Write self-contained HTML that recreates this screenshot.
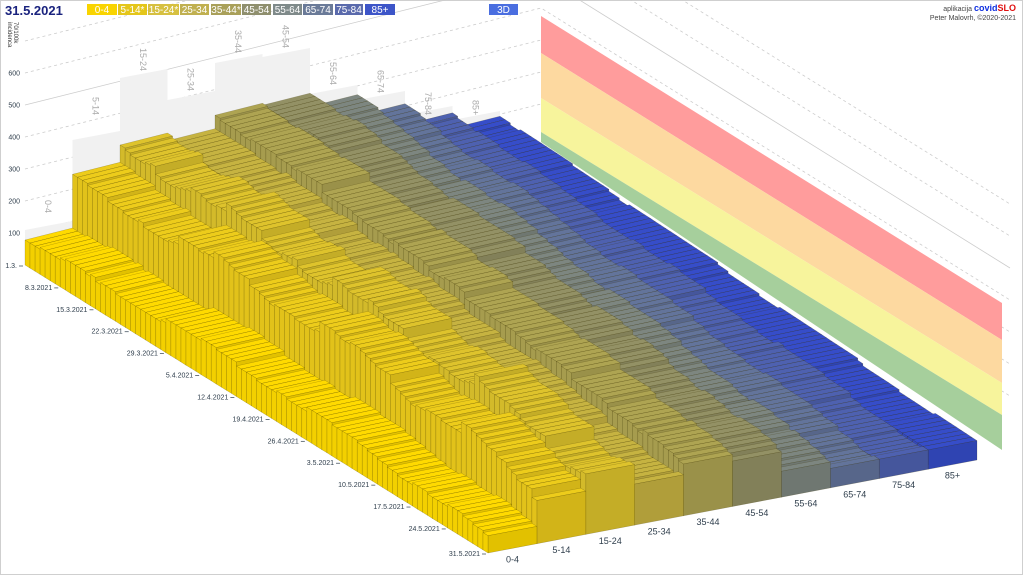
<!DOCTYPE html>
<html><head><meta charset="utf-8">
<style>
html,body{margin:0;padding:0;background:#fff;}
#w{position:relative;width:1024px;height:576px;overflow:hidden;font-family:"Liberation Sans",sans-serif;}
svg{position:absolute;left:0;top:0;}
</style></head>
<body><div id="w">
<svg id="s" width="1024" height="576" viewBox="0 0 1024 576" xmlns="http://www.w3.org/2000/svg">
<rect x="0.5" y="0.5" width="1022" height="574" fill="#fff" stroke="#cfcfcf"/>
<g id="grid" stroke="#cccccc" stroke-width="0.8" fill="none"></g>
<g id="back"></g>
<g id="wall"></g>
<g id="bars" stroke="rgba(60,50,0,0.32)" stroke-width="0.5"></g>
<g id="lbl" font-size="7" fill="#2f3e4c"></g>
<text x="5" y="15" font-size="13" font-weight="bold" fill="#1a237e">31.5.2021</text>
<g id="leg" font-size="10" fill="#fff" text-anchor="middle"></g>
<rect x="489" y="4" width="29" height="11" fill="#4a6ee0"/>
<text x="503.5" y="13" font-size="10" fill="#fff" text-anchor="middle">3D</text>
<text x="1016" y="11" font-size="7" fill="#444" text-anchor="end">aplikacija <tspan fill="#1030e0" font-weight="bold" font-size="9">covid</tspan><tspan fill="#e01010" font-weight="bold" font-size="9">SLO</tspan></text>
<text x="1016" y="20" font-size="7" fill="#444" text-anchor="end">Peter Malovrh, ©2020-2021</text>
<text transform="translate(14,22) rotate(90)" font-size="6" fill="#333">70/100k</text>
<text transform="translate(8,22) rotate(90)" font-size="6" fill="#333">incidenca</text>
</svg>
</div>
<script>
(function(){
var NS="http://www.w3.org/2000/svg";
function el(p,t,a,txt){var e=document.createElementNS(NS,t);for(var k in a)e.setAttribute(k,a[k]);if(txt!=null)e.textContent=txt;document.getElementById(p).appendChild(e);return e;}
var gv=[100,200,300,400,500,600,700];
gv.forEach(function(v){var y=265-v*0.32;
 el('grid','polyline',{points:"25,"+y+" 541,"+(y-129)+" 1010,"+(y-129+292),"stroke-dasharray":v==500?"":"3,3"});
 if(v<=600)el('lbl','text',{x:20,y:y+2.5,"text-anchor":"end"},String(v));
});
var bt=[230,140,78,100,63,57,94,100,115,120];
var names=["0-4","5-14","15-24","25-34","35-44","45-54","55-64","65-74","75-84","85+"];
var ly=[200,97,48,68,30,25,62,70,92,100];
for(var i=0;i<10;i++){var x0=25+47.5*i,x1=x0+47.5,t=bt[i];
 el('back','polygon',{points:x0+","+t+" "+x1+","+(t-9)+" "+x1+","+(265-12*(i+1))+" "+x0+","+(265-12*i),fill:"#f1f1f1"});
 el('back','text',{transform:"translate("+(x0+20)+","+ly[i]+") rotate(90)","font-size":"9",fill:"#aaa"},names[i]);
}
el('wall','polygon',{points:"541,16 1002,303 1002,340 541,53",fill:"#ff9c9c"});
el('wall','polygon',{points:"541,53 1002,340 1002,383 541,98",fill:"#fdd9a0"});
el('wall','polygon',{points:"541,98 1002,383 1002,415 541,132",fill:"#f7f49c"});
el('wall','polygon',{points:"541,132 1002,415 1002,450 541,142",fill:"#a6cf9c"});
function P(d,s,v){var x=(1-d)*(25+47.5*s)+d*(488+48.9*s);var y=(1-d)*(265-12*s)+d*(553-9.3*s);y-=v*0.32*(1+0.125*d);return [x,y];}
function pts(a){return a.map(function(p){return p[0].toFixed(1)+","+p[1].toFixed(1)}).join(" ");}
var st=[75,219,294,284,325,319,260,200,140,90];
var md=[95,235,265,210,245,232,170,125,95,70];
var en=[45,140,175,100,145,130,75,55,50,48];
var col=[[243,208,0],[226,194,26],[211,186,42],[189,170,62],[166,156,78],[140,138,96],[119,128,122],[94,110,148],[74,92,168],[51,73,191]];
function c(a,f){return "rgb("+a.map(function(x){return Math.max(0,Math.min(255,Math.round(x*f)))}).join(",")+")";}
var N=92;
for(var i=9;i>=0;i--){
 var cs=c(col[i],1),ct=c(col[i],1.05),ce=c(col[i],0.93);
 for(var k=0;k<N;k++){
  var d0=k/N,d1=(k+1)/N,tt=k/(N-1);
  // quadratic through st, md, en
  var a0=st[i],a2=en[i],a1=md[i];
  var base=a0*(1-tt)*(1-2*tt)+4*a1*tt*(1-tt)+a2*tt*(2*tt-1);
  var m=(a0+a1+a2)/3;
  var amp=i<3?0.16:0.09;
  var wk=Math.floor(k/7);
  var v=base+m*amp*(0.55*Math.sin(wk*1.7+i*1.3)+0.3*Math.sin(k*0.23+i*2.1)+0.15*Math.sin(k*0.9+i));
  v=Math.max(20,Math.round(v/6)*6);
  var A=P(d0,i,0),B=P(d1,i,0),C=P(d1,i+1,0),At=P(d0,i,v),Bt=P(d1,i,v),Ct=P(d1,i+1,v),Et=P(d0,i+1,v);
  el('bars','polygon',{points:pts([At,Bt,Ct,Et]),fill:ct});
  el('bars','polygon',{points:pts([B,C,Ct,Bt]),fill:ce});
  el('bars','polygon',{points:pts([A,B,Bt,At]),fill:cs});
 }
}
var dl=["1.3.","8.3.2021","15.3.2021","22.3.2021","29.3.2021","5.4.2021","12.4.2021","19.4.2021","26.4.2021","3.5.2021","10.5.2021","17.5.2021","24.5.2021","31.5.2021"];
dl.forEach(function(s,j){var d=Math.min(1,(j*7)/N);if(j==13)d=1;var p=P(d,0,0);
 el('lbl','line',{x1:p[0]-6,y1:p[1]+1,x2:p[0]-2,y2:p[1]+1,stroke:"#2f3e4c","stroke-width":"0.7"});
 el('lbl','text',{x:p[0]-8,y:p[1]+3,"text-anchor":"end"},s);
});
for(var i=0;i<10;i++){var p=P(1,i+0.5,0);el('lbl','text',{x:p[0],y:p[1]+14,"text-anchor":"middle","font-size":"9"},names[i]);}
var lx=[87,118,148,180,211,242,273,303,335,365],lw=[30,29,31,29,30,29,29,30,28,30];
var lc=["#f9d400","#e4c61a","#d6c040","#c0b050","#a9a05a","#8f8f6e","#7f8a8a","#6a7a98","#5a6aac","#3d55c8"];
var ln=["0-4","5-14*","15-24*","25-34","35-44*","45-54","55-64","65-74","75-84","85+"];
for(var i=0;i<10;i++){el('leg','rect',{x:lx[i],y:4,width:lw[i],height:11,fill:lc[i]});el('leg','text',{x:lx[i]+lw[i]/2,y:13},ln[i]);}
})();
</script>
</body></html>
